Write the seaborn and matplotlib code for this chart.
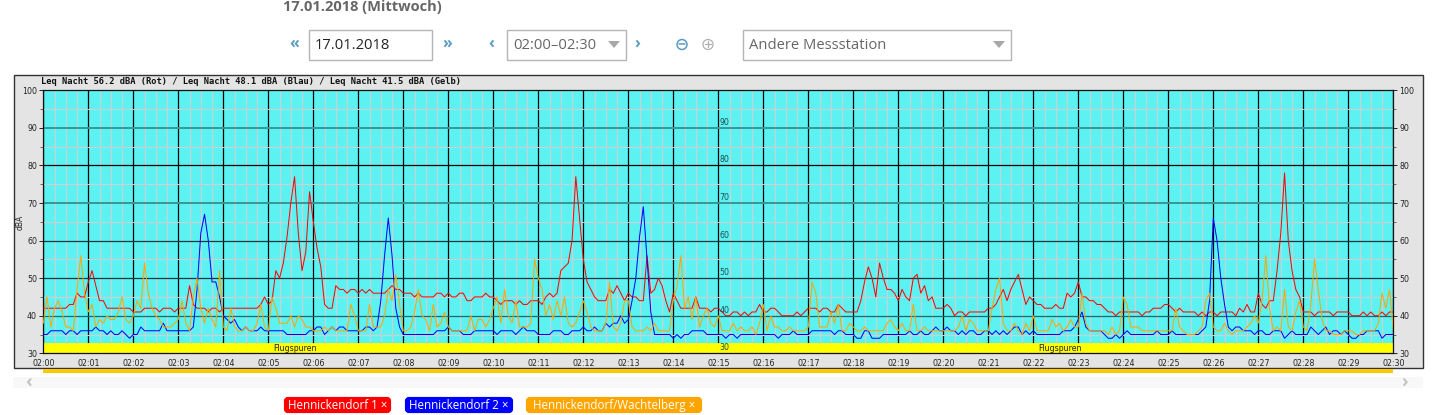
import numpy as np
import pandas as pd
import matplotlib
matplotlib.use('Agg')
import matplotlib.pyplot as plt
from matplotlib.patches import Rectangle, FancyBboxPatch, Circle, Polygon
from matplotlib.ticker import MultipleLocator
import seaborn as sns

# dBA readings every 5 seconds, one row per minute (02:00 - 02:30)
red = [
    42,42,42,42,42,42,42,43,43,46,45,45,
    49,52,48,44,44,42,42,42,42,42,42,42,
    41,41,41,42,42,42,42,41,42,42,42,41,
    42,42,42,48,43,42,42,42,41,42,42,41,
    42,42,42,42,42,42,42,42,42,42,43,45,
    43,44,52,50,54,61,70,77,62,52,57,73,
    65,58,53,43,42,42,48,47,47,46,47,47,
    46,47,46,47,46,46,46,46,47,48,47,47,
    46,46,46,45,46,45,45,45,45,46,46,45,
    46,45,45,46,46,44,44,45,45,45,46,45,
    45,44,43,44,44,44,43,44,43,43,44,44,
    44,43,45,46,45,46,52,53,54,60,77,66,
    55,49,47,45,44,44,44,47,46,48,46,44,
    46,45,45,44,44,56,46,47,50,48,44,41,
    46,44,42,42,42,42,45,42,42,42,41,42,
    42,41,40,40,41,41,40,41,40,41,41,43,
    41,41,42,42,41,40,40,40,40,41,40,41,
    42,42,42,41,42,42,41,41,43,42,41,41,
    41,41,44,49,53,50,45,54,50,47,47,46,
    44,47,45,44,50,51,46,48,44,45,42,42,
    42,43,42,40,41,41,40,41,41,41,41,41,
    42,42,43,45,47,44,47,49,51,47,43,45,
    44,43,43,42,42,42,43,42,42,46,45,46,
    49,45,45,44,44,43,43,42,41,41,40,41,
    41,41,41,41,41,40,41,41,42,42,42,43,
    43,42,41,42,41,41,41,41,40,41,40,41,
    41,40,41,41,41,41,40,42,41,43,41,41,
    46,43,42,44,44,52,62,78,60,52,47,45,
    41,41,41,40,41,41,41,41,40,41,41,41,
    41,40,40,40,41,40,41,40,40,41,40,41,
    41,
]
blue = [
    35,35,36,36,36,36,35,36,36,35,36,36,
    36,36,37,36,36,35,36,35,35,36,35,34,
    35,35,37,36,36,36,36,36,38,36,36,36,
    36,36,36,36,37,47,62,67,60,49,49,45,
    40,39,38,39,37,36,37,36,36,36,37,36,
    36,36,36,36,36,35,35,35,35,35,35,36,
    36,37,37,35,36,37,36,37,37,36,36,36,
    36,36,37,37,36,37,44,56,66,56,42,37,
    35,35,35,35,35,35,35,35,35,36,36,36,
    37,36,36,36,35,35,35,36,36,36,36,36,
    36,35,36,36,36,36,35,36,37,36,36,36,
    35,35,35,35,36,36,36,35,35,36,36,36,
    37,36,36,37,36,36,38,37,38,38,40,38,
    39,44,50,61,69,55,41,35,35,35,35,35,
    34,35,34,35,35,36,36,36,36,35,35,35,
    35,35,34,35,35,34,35,35,35,35,35,35,
    35,35,35,35,34,35,35,35,36,35,35,35,
    35,36,36,36,36,36,36,35,36,36,35,35,
    35,34,34,36,36,34,34,34,35,35,35,35,
    35,35,35,36,35,35,36,35,35,36,37,36,
    36,37,36,36,35,36,35,36,36,35,35,36,
    36,35,36,35,36,35,36,37,37,35,36,35,
    36,35,35,35,35,35,35,35,36,36,36,37,
    39,41,37,36,36,36,36,35,34,34,35,34,
    35,36,35,35,35,35,35,35,35,36,35,35,
    35,36,35,35,35,35,35,35,35,36,37,44,
    66,60,50,43,37,36,37,37,36,36,36,35,
    36,36,35,35,36,36,36,34,35,36,35,35,
    35,35,37,36,35,36,37,35,36,36,35,36,
    35,34,34,35,35,36,36,36,36,34,35,35,
    35,
]
orange = [
    38,45,37,42,44,41,37,37,36,47,56,46,
    41,43,37,39,38,40,39,39,41,45,39,38,
    40,44,42,54,46,42,40,39,37,37,37,38,
    39,44,38,36,45,50,42,38,42,39,37,52,
    37,36,42,37,36,36,37,36,36,38,43,37,
    36,45,42,38,38,38,40,37,40,39,37,37,
    36,36,36,37,36,37,36,36,36,36,43,40,
    36,36,36,43,37,37,37,40,47,44,51,43,
    36,36,37,41,47,40,39,36,43,37,38,41,
    37,36,36,36,36,36,40,36,39,39,37,39,
    42,45,38,47,40,38,44,37,37,37,38,55,
    50,47,40,43,39,44,40,45,38,37,38,41,
    44,41,37,36,36,36,38,49,37,36,38,44,
    44,37,36,36,36,37,36,38,36,36,36,36,
    44,48,56,42,45,39,45,37,40,42,38,37,
    40,36,36,36,38,36,37,36,36,37,35,38,
    43,36,40,37,37,36,36,37,36,36,36,36,
    37,49,46,37,37,37,41,38,43,36,36,38,
    37,36,36,37,36,36,36,36,36,38,39,37,
    36,38,36,36,43,36,36,37,36,36,36,36,
    36,36,36,36,37,40,36,39,38,36,36,36,
    36,42,47,50,38,36,36,38,36,35,38,36,
    40,36,36,36,36,39,37,38,36,37,39,37,
    37,46,38,36,36,36,36,36,35,37,35,36,
    45,43,37,37,37,36,36,36,36,36,36,36,
    36,36,42,37,36,35,35,35,36,37,44,46,
    37,36,36,38,36,35,36,36,36,37,38,40,
    38,44,56,42,36,37,36,47,37,36,41,44,
    37,36,43,55,47,39,36,36,35,35,35,36,
    36,36,35,35,36,36,36,36,38,46,42,47,
    36,
]
stations = ['Hennickendorf 1', 'Hennickendorf 2', 'Hennickendorf/Wachtelberg']
tick_labels = [f'02:{m:02d}' for m in range(31)]
y_ticks = [30, 40, 50, 60, 70, 80, 90, 100]
title_text = 'Leq Nacht 56.2 dBA (Rot) / Leq Nacht 48.1 dBA (Blau) / Leq Nacht 41.5 dBA (Gelb)'

frames = []
for name, values in zip(stations, [red, blue, orange]):
    frames.append(pd.DataFrame({'minute': np.arange(len(values)) * 5 / 60,
                                'dBA': values, 'station': name}))
df = pd.concat(frames, ignore_index=True)

sns.set_theme(style='white')
plt.rcParams['font.family'] = ['Open Sans', 'DejaVu Sans']

W, H = 1436, 415
fig = plt.figure(figsize=(W / 100, H / 100), dpi=100, facecolor='white')

# page furniture, in pixel coordinates
page = fig.add_axes([0, 0, 1, 1], zorder=0)
page.set_xlim(0, W)
page.set_ylim(H, 0)
page.axis('off')

grey_text = '#666666'
link = '#5b9dc4'
page.text(283, 7.5, '17.01.2018 (Mittwoch)', fontsize=10.5, fontweight='bold', color=grey_text, va='center')

for x0, x1, txt in [(309, 432, '17.01.2018'), (507, 626, '02:00–02:30'), (743, 1011, 'Andere Messstation')]:
    page.add_patch(Rectangle((x0, 30), x1 - x0, 30, fc='white', ec='#b5b5b5', lw=1))
    page.text(x0 + 6, 45.5, txt, fontsize=10.6, color='#222222' if x0 == 309 else grey_text, va='center')
for x1 in [626, 1011]:
    page.add_patch(Polygon([(x1 - 18, 41), (x1 - 6, 41), (x1 - 12, 48)], fc='#a8a8a8', ec='none'))
for x, txt in [(294, '«'), (447, '»'), (491, '‹'), (637, '›')]:
    page.text(x, 44, txt, fontsize=11.5, fontweight='bold', color=link, ha='center', va='center')

page.add_patch(Circle((682, 44.5), 5, fc='none', ec=link, lw=1.1))
page.plot([679, 685], [44.5, 44.5], color=link, lw=1.1)
page.add_patch(Circle((708, 44.5), 5, fc='none', ec='#b0b0b0', lw=0.9))
page.plot([705, 711], [44.5, 44.5], color='#b0b0b0', lw=0.9)
page.plot([708, 708], [41.5, 47.5], color='#b0b0b0', lw=0.9)

# grey frame of the graph image
page.add_patch(Rectangle((13.5, 75.5), 1409, 292, fc='#e4e4e4', ec='#333333', lw=1))
page.add_patch(Rectangle((43, 369), 1350, 4, fc='#ffc800', ec='none'))
page.add_patch(Rectangle((13, 377), 1410, 11, fc='#f8f8f8', ec='none'))
page.text(29, 382, '‹', fontsize=13, color='#c4c4c4', ha='center', va='center', fontweight='bold')
page.text(1405, 382, '›', fontsize=13, color='#c4c4c4', ha='center', va='center', fontweight='bold')

# station tags
for (x0, x1), colour, name in zip([(284, 391), (405, 513), (526, 702)], ['#ff0000', '#0000ff', '#ffa500'], stations):
    page.add_patch(FancyBboxPatch((x0 + 2, 399), x1 - x0 - 4, 12, boxstyle='round,pad=0,rounding_size=2',
                                  mutation_aspect=1, fc=colour, ec=colour, lw=3))
    page.text((x0 + x1) / 2, 405, name + ' ×', fontsize=8.4, color='white', ha='center', va='center')

# the graph
left, right, top, bottom = 43.3, 1393.3, 90.3, 353.3
ax = fig.add_axes([left / W, 1 - bottom / H, (right - left) / W, (bottom - top) / H], zorder=2)
ax.set_facecolor('#5cf2f2')
ax.set_xlim(0, 30)
ax.set_ylim(30, 100)

ax.axhspan(30, 32.66, color='#ffff00', lw=0, zorder=1)
ax.xaxis.set_major_locator(MultipleLocator(1))
ax.xaxis.set_minor_locator(MultipleLocator(0.25))
ax.yaxis.set_major_locator(MultipleLocator(10))
ax.yaxis.set_minor_locator(MultipleLocator(5))
ax.grid(which='minor', color='#cfcfcf', lw=0.8, zorder=1.5)
ax.grid(which='major', axis='x', color='black', lw=0.9, zorder=1.6)
ax.set_axisbelow(True)
for level, colour, width in [(40, '#1b6a6c', 0.9), (50, '#0c3a3c', 0.9), (60, '#0c3a3c', 0.9), (70, '#3a9698', 1.4),
                             (80, 'black', 0.9), (90, '#3a9698', 1.4)]:
    ax.axhline(level, color=colour, lw=width, zorder=1.7)

sns.lineplot(data=df, x='minute', y='dBA', hue='station', hue_order=stations,
             palette=['#ff0000', '#0000ff', '#ffa500'], estimator=None, sort=False,
             linewidth=0.72, legend=False, ax=ax, zorder=3)

ax.set_xticks(range(31))
ax.set_xticklabels(tick_labels)
ax.set_yticks(y_ticks)
ax.set_xlabel('')
ax.set_ylabel('')
ax.tick_params(axis='x', which='major', labelsize=5.7, length=3, width=0.7, pad=4.2, color='#222222',
               labelcolor='#222222', direction='in', bottom=True)
ax.tick_params(axis='x', which='minor', length=2.2, width=0.6, color='#555555', direction='in', bottom=True)
ax.tick_params(axis='y', which='major', labelsize=5.7, length=3, width=0.7, pad=1.5, color='#222222',
               labelcolor='#222222', left=True, right=True, labelright=True)
ax.tick_params(axis='y', which='minor', length=2, width=0.6, color='#555555', left=True, right=True)
for label in ax.get_xticklabels() + ax.get_yticklabels():
    label.set_family('DejaVu Sans')
for spine in ax.spines.values():
    spine.set_color('#111111')
    spine.set_linewidth(0.9)

for start in [5.59, 22.6]:
    ax.text(start, 31.3, 'Flugspuren', fontsize=5.6, family='DejaVu Sans', color='#222222',
            ha='center', va='center', zorder=4)
for level in y_ticks[:-1]:
    ax.annotate(str(level), (15, level), xytext=(1, 4), textcoords='offset points', fontsize=5.7,
                family='DejaVu Sans', color='#1f4f50', va='center', ha='left', zorder=4)

page.text(41, 82, title_text, fontsize=6.3, family='DejaVu Sans Mono', fontweight='bold', color='#111111', va='center')
page.text(20, 222, 'dBA', fontsize=5.5, family='DejaVu Sans', rotation=90, color='#222222', ha='center', va='center')

fig.savefig('out.png', dpi=100)
